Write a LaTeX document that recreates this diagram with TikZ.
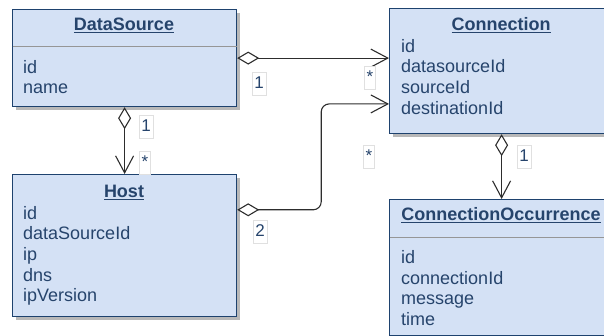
\documentclass[tikz,border=0pt]{standalone}
\usepackage{fontspec}
\setmainfont{Liberation Sans}
\usetikzlibrary{arrows.meta,positioning,calc,shadows}
\definecolor{classfill}{RGB}{212,225,245}
\definecolor{classline}{RGB}{30,66,110}
\definecolor{classtext}{RGB}{38,68,108}
\definecolor{linkgray}{RGB}{45,45,45}
\definecolor{sepgray}{RGB}{150,150,150}

\begin{document}
\begin{tikzpicture}[x=1pt, y=-1pt,
    classbox/.style={draw=classline, fill=classfill, line width=1.2pt, anchor=north west, inner sep=0pt,
        minimum width=224pt, drop shadow={shadow xshift=3pt, shadow yshift=-3pt, fill=black!28, opacity=1}},
    title/.style={anchor=base, inner sep=0pt, text=classtext, font=\bfseries\fontsize{18}{21}\selectfont},
    attrs/.style={anchor=north west, inner sep=0pt, align=left, text=classtext, font=\fontsize{18}{20.6}\selectfont},
    sep/.style={draw=sepgray, line width=0.8pt},
    link/.style={draw=linkgray, line width=1.1pt,
        {Diamond[open,length=22pt,width=13pt]}-{Straight Barb[length=17pt,width=18pt]}},
    mult/.style={draw=black!12, fill=white, inner xsep=2pt, inner ysep=3pt, text height=13pt, text depth=4pt,
        text=classtext, font=\fontsize{17}{20}\selectfont}
]
\useasboundingbox (0,0) rectangle (604,336);
\clip (0,0) rectangle (604,336);

% Classes
\node[classbox, minimum height=97pt] (ds) at (12,9) {};
\node[title] (ds-title) at (124,31) {\underline{DataSource}};
\draw[sep] ($(ds.north west)+(0.6,37)$) -- ($(ds.north east)+(-0.6,37)$);
\node[attrs] (ds-attrs) at (23,58.6) {\strut id\\name};

\node[classbox, minimum height=142pt] (host) at (12,174) {};
\node[title] (host-title) at (124,198) {\underline{Host}};
\node[attrs] (host-attrs) at (23,204.6) {\strut id\\dataSourceId\\ip\\dns\\ipVersion};

\node[classbox, minimum height=125pt] (cn) at (389,8) {};
\node[title] (cn-title) at (501,31) {\underline{Connection}};
\node[attrs] (cn-attrs) at (401,37.6) {\strut id\\datasourceId\\sourceId\\destinationId};

\node[classbox, minimum height=136pt] (co) at (389,199) {};
\node[title] (co-title) at (501,221) {\underline{ConnectionOccurrence}};
\draw[sep] ($(co.north west)+(0.6,38)$) -- ($(co.north east)+(-0.6,38)$);
\node[attrs] (co-attrs) at (401,249) {\strut id\\connectionId\\message\\time};

% Associations
\coordinate (host-out) at ($(host.north east)!0.25!(host.south east)$);
\coordinate (cn-in) at ($(cn.north west)!0.76!(cn.south west)$);
\draw[link] (ds.east) -- (ds.east -| cn.west);
\draw[link, rounded corners=8pt] (host-out) -- ++(84,0) |- (cn-in);
\draw[link] (ds.south) -- (host.north);
\draw[link] (cn.south) -- (co.north);

% Multiplicities
\node[mult] (m-ds-cn) at (259,84) {1};
\node[mult] (m-cn-ds) at (370,78) {*};
\node[mult] (m-host-cn) at (260,232) {2};
\node[mult] (m-cn-host) at (369,157) {*};
\node[mult] (m-ds-host) at (146,127) {1};
\node[mult] (m-host-ds) at (145,163) {*};
\node[mult] (m-cn-co) at (524,157) {1};

\end{tikzpicture}
\end{document}
